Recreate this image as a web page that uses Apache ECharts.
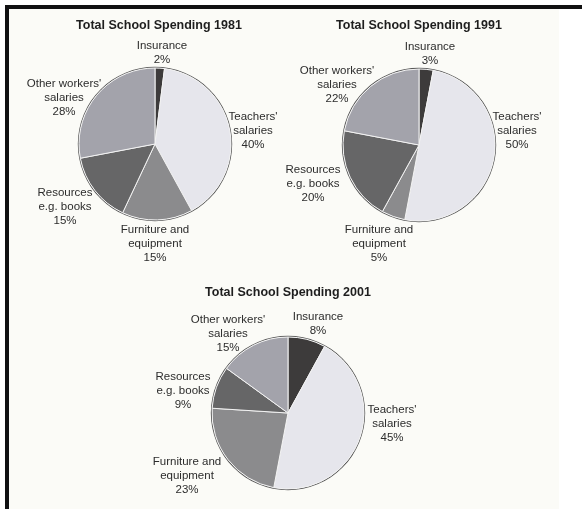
<!DOCTYPE html>
<html>
<head>
<meta charset="utf-8">
<script src="https://cdn.jsdelivr.net/npm/echarts@6/dist/echarts.min.js"></script>
<style>
  html, body { margin: 0; padding: 0; background: #ffffff; }
  #wrap { position: relative; width: 582px; height: 509px; overflow: hidden; background: #ffffff; }
  #paper { position: absolute; left: 5px; top: 5px; width: 550px; height: 504px; background: #fbfbf7;
           border-left: 4px solid #111; }
  #topline { position: absolute; left: 5px; top: 5px; width: 577px; height: 4px; background: #111; }
  #chart { position: absolute; left: 0; top: 0; width: 582px; height: 509px; }
</style>
</head>
<body>
<div id="wrap">
  <div id="paper"></div>
  <div id="topline"></div>
  <div id="chart"></div>
</div>
<script>
// ---- data ----
const categories = ["Insurance", "Teachers'\nsalaries", "Furniture and\nequipment", "Resources\ne.g. books", "Other workers'\nsalaries"];
const titles = ["Total School Spending 1981", "Total School Spending 1991", "Total School Spending 2001"];
const spending1981 = [2, 40, 15, 15, 28];
const spending1991 = [3, 50, 5, 20, 22];
const spending2001 = [8, 45, 23, 9, 15];

// ---- layout / style (kept apart from data) ----
const sliceColors = ['#3d3b3b', '#e6e6ec', '#8b8b8d', '#666667', '#a3a3ab'];
const pieCenters = [[155, 144], [419, 145], [288, 413]];
const pieRadius = 76;
const titlePos = [[159, 19], [419, 19], [288, 286]];
const labelPos = [
  [[162, 53], [253, 131], [155, 244], [65, 207], [64, 98]],
  [[430, 54], [517, 131], [379, 244], [313, 184], [337, 85]],
  [[318, 324], [392, 424], [187, 476], [183, 391], [228, 334]]
];

const datasets = [spending1981, spending1991, spending2001];

const chart = echarts.init(document.getElementById('chart'), null, { renderer: 'canvas' });

const series = [];
datasets.forEach(function (vals, si) {
  // outline ring
  series.push({
    type: 'pie',
    center: pieCenters[si],
    radius: [pieRadius, pieRadius + 1.2],
    silent: true,
    animation: false,
    label: { show: false },
    labelLine: { show: false },
    itemStyle: { color: '#5a5a5a' },
    data: [{ value: 1, name: 'outline' + si }]
  });
  series.push({
    type: 'pie',
    center: pieCenters[si],
    radius: [0, pieRadius],
    startAngle: 90,
    clockwise: true,
    animation: false,
    silent: true,
    itemStyle: { borderColor: '#f2f2f2', borderWidth: 1 },
    label: {
      show: true,
      position: 'outside',
      alignTo: 'none',
      overflow: 'none',
      formatter: function (p) { return p.name + '\n' + p.value + '%'; },
      fontFamily: 'Liberation Sans, Arial, sans-serif',
      fontSize: 11.5,
      lineHeight: 14,
      color: '#2c2c2c',
      align: 'center'
    },
    labelLine: { show: false },
    labelLayout: function (params) {
      const p = labelPos[si][params.dataIndex];
      return { x: p[0], y: p[1], align: 'center', verticalAlign: 'middle', width: 120 };
    },
    data: vals.map(function (v, i) {
      return { value: v, name: categories[i], itemStyle: { color: sliceColors[i] } };
    })
  });
});

chart.setOption({
  backgroundColor: 'transparent',
  animation: false,
  title: titles.map(function (t, i) {
    return {
      text: t,
      left: titlePos[i][0],
      top: titlePos[i][1],
      textAlign: 'center',
      padding: 0,
      textStyle: { fontFamily: 'Liberation Sans, Arial, sans-serif', fontSize: 12.5, fontWeight: 'bold', color: '#1e1e1e' }
    };
  }),
  series: series
});
</script>
</body>
</html>
